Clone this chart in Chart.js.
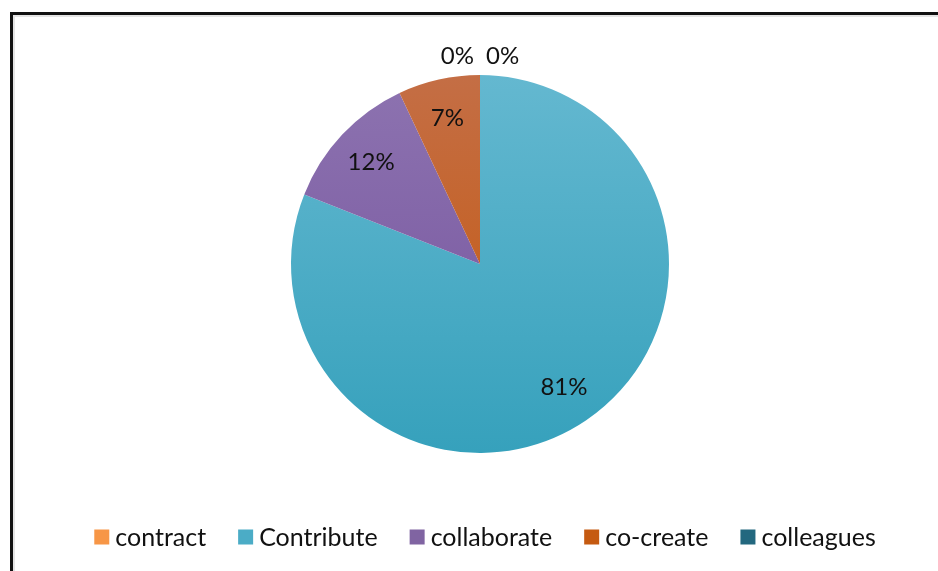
<!DOCTYPE html>
<html>
<head>
<meta charset="utf-8">
<script src="https://cdn.jsdelivr.net/npm/chart.js@4/dist/chart.umd.min.js"></script>
<style>
  html, body { margin: 0; padding: 0; background: #fff; overflow: hidden; }
  #wrap { position: relative; width: 938px; height: 571px; }
  #frame { position: absolute; left: 10px; top: 12px; width: 1000px; height: 700px;
           border: 3px solid #111; box-shadow: inset 2px 2px 0 #e4e4e4; box-sizing: border-box; }
  canvas { position: absolute; left: 0; top: 0; }
</style>
</head>
<body>
<div id="wrap">
  <div id="frame"></div>
  <canvas id="c" width="938" height="571"></canvas>
</div>
<script>
const categories = ['contract', 'Contribute', 'collaborate', 'co-create', 'colleagues'];
const percentValues = [0, 81, 12, 7, 0];
const topColors = ['#F9A86A', '#64B8D0', '#8D73B0', '#C46E45', '#2E7890'];
const bottomColors = ['#F4893A', '#36A1BC', '#74529D', '#C5570A', '#1E6378'];
const legendColors = ['#F79646', '#4BACC6', '#8064A2', '#C55A11', '#23687F'];

const FONT = '"Lato", "Liberation Sans", sans-serif';

function grad(ctx, area, i) {
  if (!area) return bottomColors[i];
  const cy = (area.top + area.bottom) / 2;
  const r = Math.min(area.width, area.height) / 2;
  const g = ctx.createLinearGradient(0, cy - r, 0, cy + r);
  g.addColorStop(0, topColors[i]);
  g.addColorStop(1, bottomColors[i]);
  return g;
}

const labelPlugin = {
  id: 'sliceLabels',
  afterDatasetsDraw(chart) {
    const ctx = chart.ctx;
    const meta = chart.getDatasetMeta(0);
    const data = chart.data.datasets[0].data;
    ctx.save();
    ctx.font = '24px ' + FONT;
    ctx.fillStyle = '#111';
    ctx.textAlign = 'center';
    ctx.textBaseline = 'middle';
    const n = meta.data.length;
    meta.data.forEach((arc, i) => {
      const p = arc.getProps(['x', 'y', 'startAngle', 'endAngle', 'outerRadius'], true);
      const txt = Math.round(data[i]) + '%';
      const mid = (p.startAngle + p.endAngle) / 2;
      let x, y;
      if (data[i] > 0) {
        const rr = p.outerRadius * 0.79;
        x = p.x + Math.cos(mid) * rr;
        y = p.y + Math.sin(mid) * rr;
      } else {
        const rr = p.outerRadius + 19;
        x = p.x + Math.cos(mid) * rr;
        y = p.y + Math.sin(mid) * rr;
        const w = ctx.measureText(txt).width;
        x += (i < n / 2 ? 1 : -1) * (w / 2 + 6);
      }
      ctx.fillText(txt, x, y);
    });
    ctx.restore();
  }
};

const legendPlugin = {
  id: 'customLegend',
  afterDraw(chart) {
    const ctx = chart.ctx;
    ctx.save();
    ctx.font = '25px ' + FONT;
    ctx.textBaseline = 'middle';
    ctx.textAlign = 'left';
    const box = 15, gapText = 6, gapItem = 32;
    const widths = categories.map(c => box + gapText + ctx.measureText(c).width);
    const total = widths.reduce((a, b) => a + b, 0) + gapItem * (categories.length - 1);
    let x = 485 - total / 2;
    const yc = 537;
    categories.forEach((c, i) => {
      ctx.fillStyle = legendColors[i];
      ctx.fillRect(x, yc - box / 2, box, box);
      ctx.fillStyle = '#111';
      ctx.fillText(c, x + box + gapText, yc + 1);
      x += widths[i] + gapItem;
    });
    ctx.restore();
  }
};

new Chart(document.getElementById('c'), {
  type: 'pie',
  data: {
    labels: categories,
    datasets: [{
      data: percentValues,
      backgroundColor: (c) => grad(c.chart.ctx, c.chart.chartArea, c.dataIndex),
      borderWidth: 0,
      hoverOffset: 0
    }]
  },
  options: {
    responsive: false,
    animation: false,
    layout: { padding: { top: 75, bottom: 118, left: 291, right: 269 } },
    plugins: { legend: { display: false }, tooltip: { enabled: false } }
  },
  plugins: [labelPlugin, legendPlugin]
});
</script>
</body>
</html>
